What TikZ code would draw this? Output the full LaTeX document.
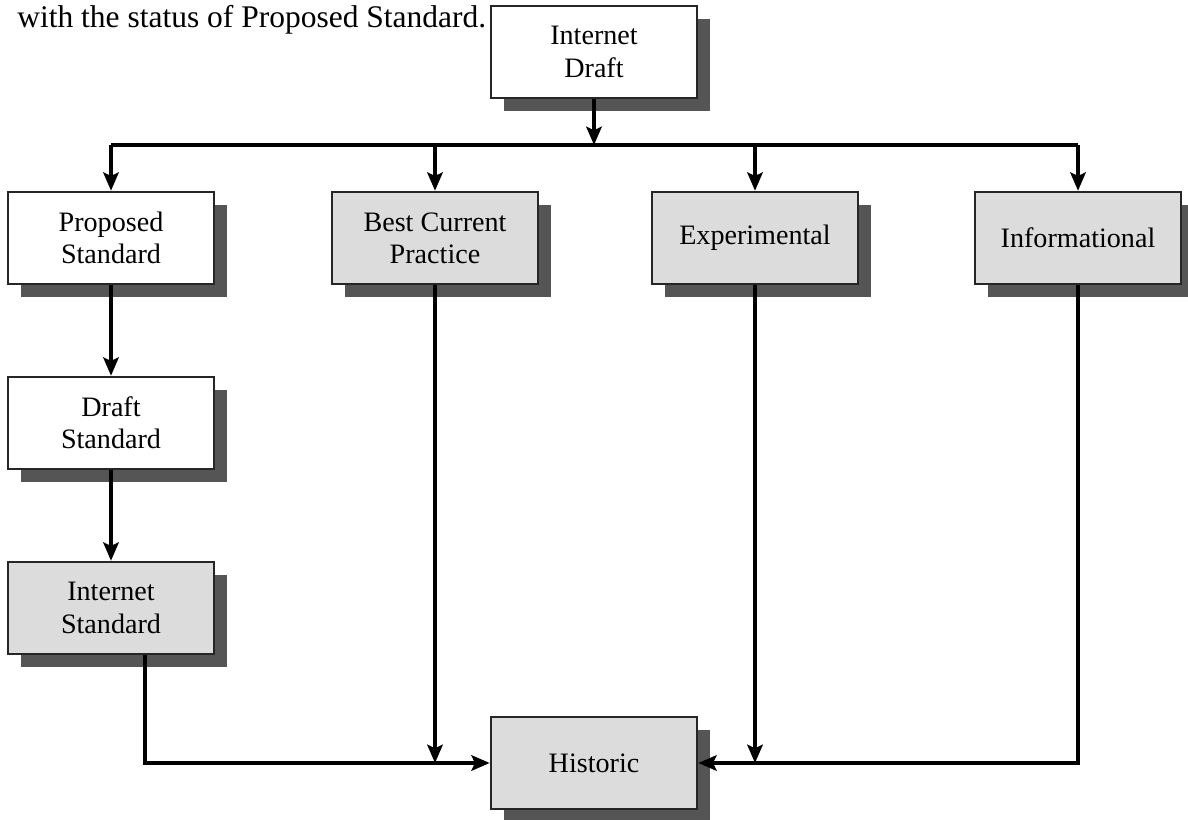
\documentclass[tikz,border=0pt]{standalone}
\usepackage{fontspec}
\setmainfont{Liberation Serif}
\usetikzlibrary{arrows.meta,shadows}

\definecolor{boxgray}{HTML}{DCDCDC}
\definecolor{shadowgray}{HTML}{555555}

\tikzset{
  stdbox/.style={draw=black!85, line width=1.8pt, minimum width=5.15cm, minimum height=2.3cm,
    align=center, font=\fontsize{20}{23}\selectfont,
    drop shadow={shadow xshift=0.32cm, shadow yshift=-0.32cm, fill=shadowgray, opacity=1}},
  whitebox/.style={stdbox, fill=white},
  graybox/.style={stdbox, fill=boxgray},
  arr/.style={line width=2.4pt, -{Stealth[length=13pt,width=11pt,inset=2.5pt]}},
  ln/.style={line width=2.4pt}
}

\begin{document}
\begin{tikzpicture}[x=0.025cm, y=-0.025cm]
        \useasboundingbox (0,0) rectangle (1188,820);
        \node[anchor=base west, inner sep=0pt, font=\fontsize{22.4}{26}\selectfont] (intro) at (17,28) {with the status of Proposed Standard.};
        % boxes
        \node[whitebox] (idraft) at (594,52) {Internet\\Draft};
        \node[whitebox] (proposed) at (111,238) {Proposed\\Standard};
        \node[graybox] (bcp) at (435,238) {Best Current\\Practice};
        \node[graybox] (exper) at (755,238) {Experimental};
        \node[graybox] (info) at (1078,238) {Informational};
        \node[whitebox] (draftstd) at (111,423) {Draft\\Standard};
        \node[graybox] (inetstd) at (111,608) {Internet\\Standard};
        \node[graybox] (historic) at (594,763) {Historic};
        \coordinate (bus) at (0,145);
        % connectors
        \draw[arr] (idraft.south) -- (idraft.south |- bus);
        \draw[ln] (proposed.north |- bus) -- (info.north |- bus);
        \foreach \n in {proposed,bcp,exper,info}
            \draw[arr] (\n.north |- bus) -- (\n.north);
        \draw[arr] (proposed) -- (draftstd);
        \draw[arr] (draftstd) -- (inetstd);
        \draw[arr] ([xshift=0.85cm]inetstd.south) |- (historic.west);
        \draw[arr] (bcp.south) -- (bcp.south |- historic.west);
        \draw[arr] (exper.south) -- (exper.south |- historic.west);
        \draw[arr] (info.south) |- (historic.east);
    \end{tikzpicture}
\end{document}
